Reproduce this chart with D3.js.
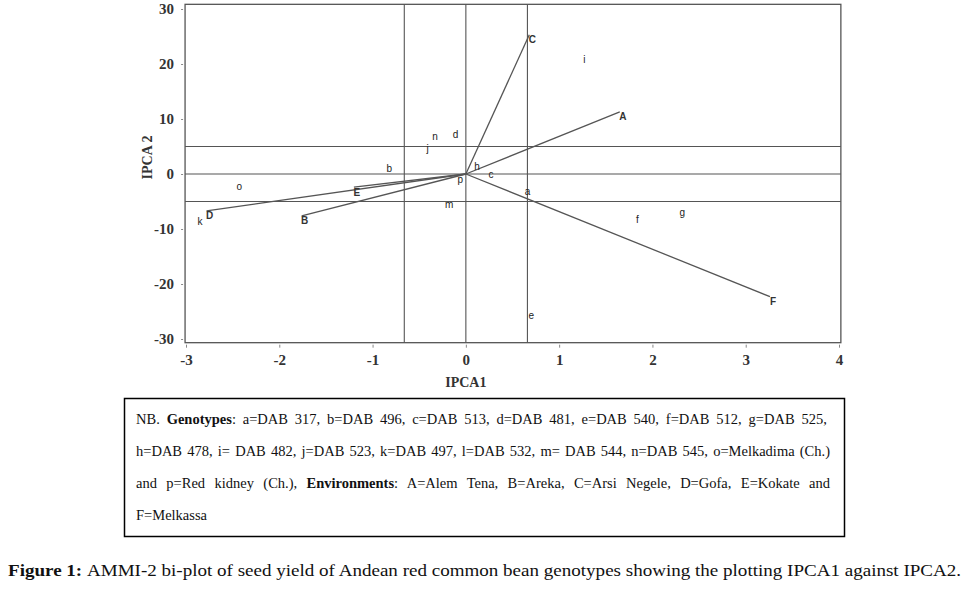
<!DOCTYPE html>
<html>
<head>
<meta charset="utf-8">
<script src="https://cdn.jsdelivr.net/npm/d3@7"></script>
<style>
  body { margin: 0; background: #fff; }
  svg { display: block; }
  .tick text { font-family: "Liberation Serif", serif !important; }
</style>
</head>
<body>
<svg id="canvas" width="970" height="592"></svg>
<script>
// environments (vectors from origin)
const envNames = ["A", "B", "C", "D", "E", "F"];
const envX = [1.65, -1.76, 0.68, -2.78, -1.2, 3.26];
const envY = [11.3, -7.6, 25.3, -6.7, -2.4, -22.3];

// genotypes (points, letter only)
const genoNames = ["a", "b", "c", "d", "e", "f", "g", "h", "i", "j", "k", "m", "n", "o", "p"];
const genoX = [0.66, -0.82, 0.27, -0.11, 0.70, 1.84, 2.32, 0.12, 1.27, -0.41, -2.85, -0.18, -0.33, -2.43, -0.06];
const genoY = [-3.2, 1.0, -0.05, 7.1, -25.8, -8.2, -7.0, 1.3, 20.9, 4.7, -8.7, -5.5, 6.9, -2.2, -1.0];

// reference lines
const vLines = [-0.66, 0, 0.66];
const hLines = [-5, 0, 5];

const xTicks = [-3, -2, -1, 0, 1, 2, 3, 4];
const yTicks = [30, 20, 10, 0, -10, -20, -30];

const noteLines = [
  [["NB. ", false], ["Genotypes", true], [":  a=DAB 317, b=DAB 496, c=DAB 513, d=DAB 481, e=DAB 540, f=DAB 512, g=DAB 525,", false]],
  [["h=DAB 478, i= DAB 482, j=DAB 523, k=DAB 497, l=DAB 532, m= DAB 544, n=DAB 545, o=Melkadima (Ch.)", false]],
  [["and p=Red kidney (Ch.), ", false], ["Environments", true], [": A=Alem Tena, B=Areka, C=Arsi Negele, D=Gofa, E=Kokate and", false]],
  [["F=Melkassa", false]]
];
const caption = [["Figure 1: ", true], ["AMMI-2 bi-plot of seed yield of Andean red common bean genotypes showing the plotting IPCA1 against IPCA2.", false]];

const svg = d3.select("#canvas");

const x = d3.scaleLinear().domain([-3, 4]).range([186, 839]);
const y = d3.scaleLinear().domain([-30, 30]).range([339, 9]);

const lineCol = "#555";

// frame
svg.append("rect")
  .attr("x", x(-3.01)).attr("y", y(30.85))
  .attr("width", x(4.02) - x(-3.01))
  .attr("height", y(-30.67) - y(30.85))
  .attr("fill", "none").attr("stroke", lineCol).attr("stroke-width", 1.3);

// reference lines
svg.selectAll(".vl").data(vLines).enter().append("line")
  .attr("x1", d => x(d)).attr("x2", d => x(d))
  .attr("y1", y(30.85)).attr("y2", y(-30.67))
  .attr("stroke", lineCol).attr("stroke-width", 1.1);
svg.selectAll(".hl").data(hLines).enter().append("line")
  .attr("x1", x(-3.01)).attr("x2", x(4.02))
  .attr("y1", d => y(d)).attr("y2", d => y(d))
  .attr("stroke", lineCol).attr("stroke-width", 1.1);

// ticks (plain hyphen for negatives, like the original)
const fmt = d => String(d);
const xAxis = svg.append("g").attr("transform", "translate(0," + (y(-30.67) + 2) + ")")
  .call(d3.axisBottom(x).tickValues(xTicks).tickSize(3).tickFormat(fmt));
const yAxis = svg.append("g").attr("transform", "translate(" + (x(-3.01) - 2) + ",0)")
  .call(d3.axisLeft(y).tickValues(yTicks).tickSize(2).tickFormat(fmt));
[xAxis, yAxis].forEach(a => {
  a.attr("font-family", "'Liberation Serif', serif").attr("font-size", 15);
  a.select(".domain").remove();
  a.selectAll(".tick line").attr("stroke", "#888");
  a.selectAll("text")
    .style("font-size", "15px")
    .style("font-weight", "bold")
    .attr("fill", "#333");
});
xAxis.selectAll("text").attr("y", 10);
yAxis.selectAll("text").attr("x", -9);

// axis titles
svg.append("text")
  .attr("x", x(0)).attr("y", 387)
  .attr("text-anchor", "middle")
  .style("font-family", "'Liberation Serif', serif")
  .style("font-size", "14px").style("font-weight", "bold")
  .attr("fill", "#333")
  .text("IPCA1");
svg.append("text")
  .attr("transform", "translate(152," + y(3) + ") rotate(-90)")
  .attr("text-anchor", "middle")
  .style("font-family", "'Liberation Serif', serif")
  .style("font-size", "14px").style("font-weight", "bold")
  .attr("fill", "#333")
  .text("IPCA 2");

// environment vectors
const envs = envNames.map((n, i) => ({ name: n, x: envX[i], y: envY[i] }));
svg.selectAll(".env").data(envs).enter().append("line")
  .attr("x1", x(0)).attr("y1", y(0))
  .attr("x2", d => x(d.x)).attr("y2", d => y(d.y))
  .attr("stroke", "#555").attr("stroke-width", 1.3);
svg.selectAll(".envlab").data(envs).enter().append("text")
  .attr("x", d => x(d.x) + 3).attr("y", d => y(d.y) + 5)
  .attr("text-anchor", "middle").attr("dominant-baseline", "central")
  .style("font-family", "'Liberation Sans', Arial, sans-serif")
  .style("font-size", "10px").style("font-weight", "bold")
  .attr("fill", "#333")
  .text(d => d.name);

// genotype letters
const genos = genoNames.map((n, i) => ({ name: n, x: genoX[i], y: genoY[i] }));
svg.selectAll(".geno").data(genos).enter().append("text")
  .attr("x", d => x(d.x)).attr("y", d => y(d.y))
  .attr("text-anchor", "middle").attr("dominant-baseline", "central")
  .style("font-family", "'Liberation Sans', Arial, sans-serif")
  .style("font-size", "10px")
  .attr("fill", "#222")
  .text(d => d.name);

// note box
svg.append("rect")
  .attr("x", 124.5).attr("y", 398.5).attr("width", 720).attr("height", 138)
  .attr("fill", "none").attr("stroke", "#000").attr("stroke-width", 1.5);

const noteTop = [424, 456, 488, 520];
noteLines.forEach((parts, i) => {
  const t = svg.append("text")
    .attr("x", 136).attr("y", noteTop[i])
    .style("font-family", "'Liberation Serif', serif")
    .style("font-size", "14.5px")
    .attr("fill", "#111");
  parts.forEach(p => {
    t.append("tspan").style("font-weight", p[1] ? "bold" : "normal").text(p[0]);
  });
  if (i < 3) {
    // justify like the original paragraph
    const full = t.node().getComputedTextLength();
    const spaces = parts.map(p => p[0]).join("").split(" ").length - 1;
    const ws = (694 - full) / spaces;
    t.style("word-spacing", ws + "px");
  }
});

// caption
const cap = svg.append("text")
  .attr("x", 8).attr("y", 576)
  .style("font-family", "'Liberation Serif', serif")
  .style("font-size", "16px")
  .attr("fill", "#111");
caption.forEach(p => {
  cap.append("tspan").style("font-weight", p[1] ? "bold" : "normal").text(p[0]);
});
const capLen = cap.node().getComputedTextLength();
cap.attr("transform", "translate(8,0) scale(" + (954 / capLen) + ",1) translate(-8,0)");
</script>
</body>
</html>
